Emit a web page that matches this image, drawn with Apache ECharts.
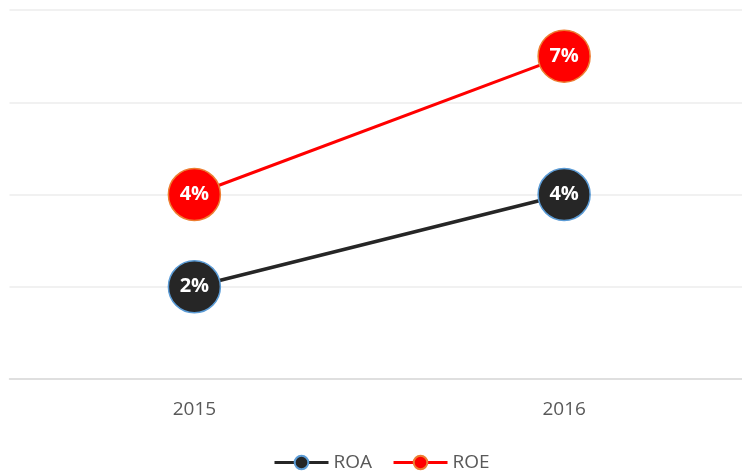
<!DOCTYPE html>
<html style="height: 100%">
   <head>
       <meta charset="utf-8">
   </head>
   <body style="height: 100%; margin: 0; overflow: hidden">
       <div id="container" style="width: 749px; height: 471px"></div>
       <script type="text/javascript" src="https://cdn.jsdelivr.net/npm/echarts@6/dist/echarts.min.js"></script>
       <script type="text/javascript">
var years = ['2015', '2016'];
var roa = [2, 4];
var roe = [4, 7];

var dom = document.getElementById("container");
var myChart = echarts.init(dom);
var font = 'Open Sans';

var option = {
    animation: false,
    textStyle: { fontFamily: font },
    grid: { left: 9.5, right: 0, top: 10, bottom: 92 },
    legend: {
        top: 448,
        left: 268,
        itemWidth: 54,
        itemHeight: 17,
        itemGap: 20,
        lineStyle: { width: 3 },
        textStyle: { fontSize: 19, color: '#595959', fontFamily: font },
        data: ['ROA', 'ROE']
    },
    xAxis: {
        type: 'category',
        data: years,
        axisTick: { show: false },
        axisLine: { lineStyle: { color: '#d9d9d9', width: 1.5 } },
        axisLabel: { fontSize: 19, color: '#595959', margin: 21, fontFamily: font }
    },
    yAxis: {
        type: 'value',
        min: 0,
        max: 8,
        interval: 2,
        axisLabel: { show: false },
        axisLine: { show: false },
        axisTick: { show: false },
        splitLine: { lineStyle: { color: '#ededed', width: 1.5 } }
    },
    series: [
        {
            name: 'ROA',
            type: 'line',
            data: roa,
            symbol: 'circle',
            symbolSize: 52,
            lineStyle: { color: '#262626', width: 3.5 },
            itemStyle: { color: '#262626', borderColor: '#5b9bd5', borderWidth: 1.5 },
            label: {
                show: true,
                position: 'inside',
                formatter: '{c}%',
                color: '#fff',
                fontSize: 20,
                fontWeight: 'bold',
                fontFamily: font
            }
        },
        {
            name: 'ROE',
            type: 'line',
            data: roe,
            symbol: 'circle',
            symbolSize: 52,
            lineStyle: { color: '#ff0000', width: 3 },
            itemStyle: { color: '#ff0000', borderColor: '#ed7d31', borderWidth: 1.5 },
            label: {
                show: true,
                position: 'inside',
                formatter: '{c}%',
                color: '#fff',
                fontSize: 20,
                fontWeight: 'bold',
                fontFamily: font
            }
        }
    ]
};
myChart.setOption(option);
       </script>
   </body>
</html>
